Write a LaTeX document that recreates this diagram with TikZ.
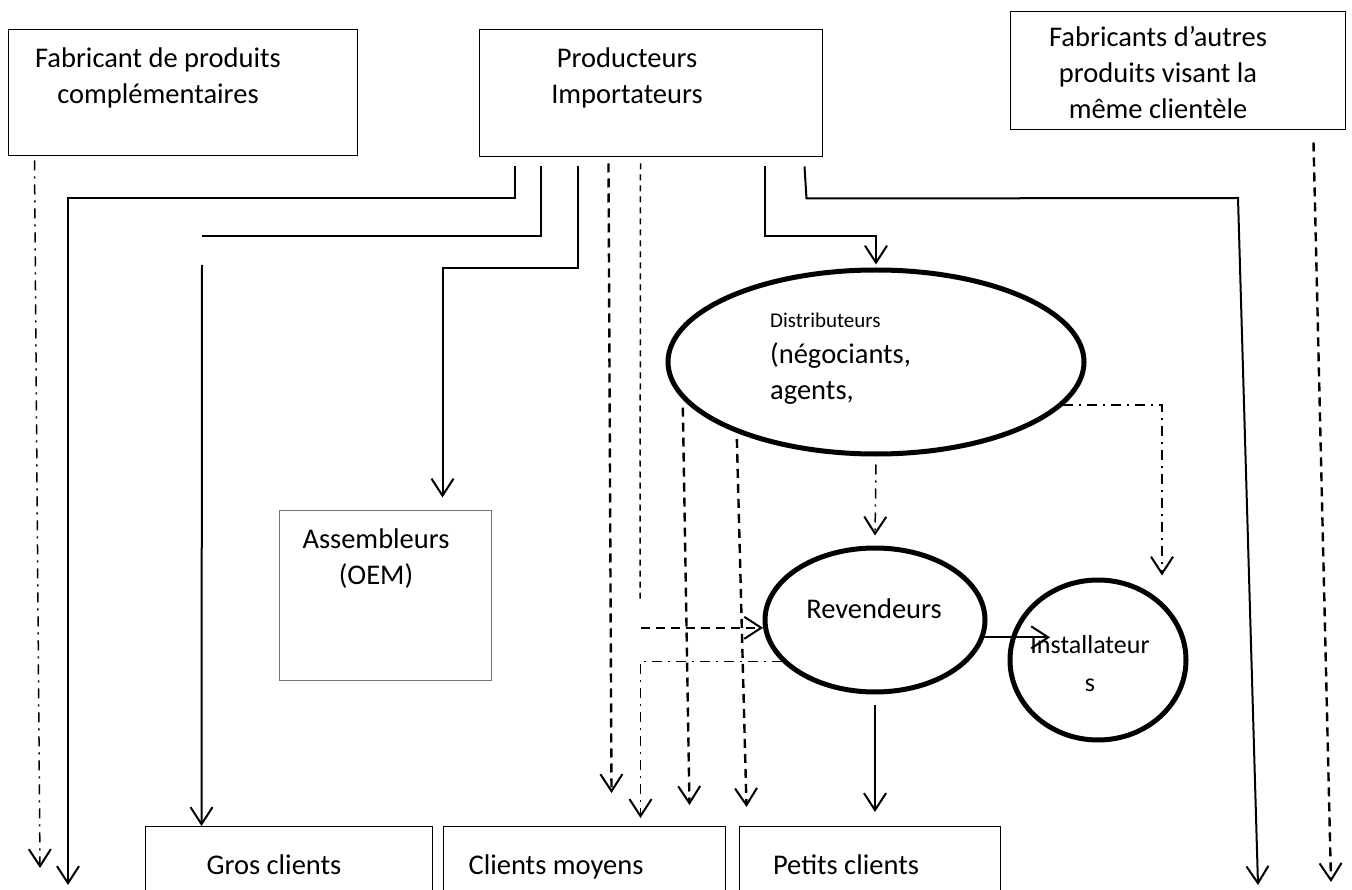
\documentclass[tikz,border=0pt]{standalone}
\usepackage{fontspec}
\setmainfont{Carlito}
\usetikzlibrary{arrows.meta,shapes.geometric,calc}

\tikzset{
  box/.style={draw, line width=1pt, inner sep=0pt},
  oval/.style={draw, ellipse, line width=5pt, inner sep=0pt},
  txt/.style={font=\fontsize{28.5}{36}\selectfont, align=center, inner sep=0pt},
  flow/.style={line width=2pt},
  barb/.style={-{Straight Barb[length=17pt,width=22pt,line width=2pt]}},
  dsh/.style={line width=2.4pt, dash pattern=on 9pt off 6pt},
  thindsh/.style={line width=1.5pt, dash pattern=on 6pt off 5pt},
  dshdot/.style={line width=1.5pt, dash pattern=on 10pt off 6pt on 2pt off 6pt},
}

\begin{document}
\begin{tikzpicture}[x=1pt,y=-1pt]
\useasboundingbox (0,0) rectangle (1352,890);
% top boxes
\node[box, minimum width=349pt, minimum height=126pt] (comp) at (182.5,93) {};
\node[txt] (compT) at (158,78) {Fabricant de produits\\complémentaires};
\node[box, minimum width=343pt, minimum height=127pt] (prod) at (650.5,93.5) {};
\node[txt] (prodT) at (627,78) {Producteurs\\Importateurs};
\node[box, minimum width=335pt, minimum height=118pt] (autres) at (1177.5,71) {};
\node[txt] (autresT) at (1158,73) {Fabricants d’autres\\produits visant la\\même clientèle};
\node[box, draw=black!55, minimum width=212pt, minimum height=170pt] (oem) at (385,595) {};
\node[txt] (oemT) at (376,559) {Assembleurs\\(OEM)};
% ellipses
\node[oval, minimum width=416pt, minimum height=184pt] (dist) at (876,362) {};
\node[txt, align=left, anchor=west] (distT) at (770,359) {{\fontsize{21}{36}\selectfont Distributeurs}\\(négociants,\\agents,};
\node[oval, minimum width=220pt, minimum height=144pt] (rev) at (875,620) {};
\node[txt] (revT) at (874,609) {Revendeurs};
\node[oval, minimum width=176pt, minimum height=160pt] (inst) at (1098,660) {};
\node[txt, font=\fontsize{26}{38}\selectfont] (instT) at (1090,664) {Installateur\\s};
% clients
\foreach \n/\x/\w/\t/\tx in {gros/288.5/287/Gros clients/274, moyens/584/282/Clients moyens/556, petits/869.5/261/Petits clients/846} {
  \node[box, minimum width=\w pt, minimum height=90pt, anchor=north] (\n) at (\x,826) {};
  \node[txt, anchor=base] (\n T) at (\tx,874) {\t};
}
% free ends
\coordinate (endL) at (40,868);
\coordinate (endA) at (68,885);
\coordinate (gapL) at (202,236);
\coordinate (c5end) at (640,600);
\coordinate (c6s) at (641,628);
\coordinate (cornerR) at (1238,198);
\coordinate (endR) at (1258,885);
\coordinate (endRR) at (1331,882);
% from the producers
\draw[flow,barb] ($(prod.south west)+(36,9)$) -- ++(0,32) -| (endA);
\draw[flow] ($(prod.south west)+(62,9)$) |- (gapL);
\draw[flow,barb] ($(gapL)+(0,29)$) -- ($(gros.north west)+(57,0)$);
\draw[flow,barb] ($(prod.south west)+(99,9)$) -- ++(0,102) -| ($(oem.north west)+(164,-12)$);
\draw[dsh,barb] ($(prod.south west)+(130,6)$) -- ($(moyens.north west)+(169,-33)$);
\draw[thindsh] ($(prod.south west)+(162,6)$) -- (c5end);
\draw[dsh,barb] (c6s |- rev.184) -- (rev.184);
\draw[flow,barb] ($(prod.south west)+(286,9)$) -- ++(0,70) -| ($(dist.north)+(0,-3)$);
\draw[flow,barb] ($(prod.south west)+(326,9)$) -- ++(2,32) -- (cornerR) -- (endR);
% side makers
\draw[dshdot,barb] ($(comp.south west)+(27,4)$) -- (endL);
\draw[dsh,barb] ($(autres.south west)+(304,12)$) -- (endRR);
% from the distributors
\draw[dsh,barb] ($(dist.191)+(0,8)$) -- ($(moyens.north west)+(247,-21)$);
\draw[dsh,barb] ($(dist.207)+(0,6)$) -- ($(petits.north west)+(8,-19)$);
\draw[dshdot,barb] ($(dist.south)+(0,8)$) -- ($(rev.north)+(0,-10)$);
\draw[dshdot,barb] (dist.347) -| ($(inst.north)+(64,-2)$);
% from the resellers
\draw[dshdot,barb] (rev.204) -| ($(moyens.north west)+(198,-8)$);
\draw[flow,barb] (rev.351) -- ($(rev.351 -| inst.center)+(-48,0)$);
\draw[flow,barb] ($(rev.south)+(0,10)$) -- ($(rev.south |- petits.north)+(0,-14)$);
\end{tikzpicture}
\end{document}
